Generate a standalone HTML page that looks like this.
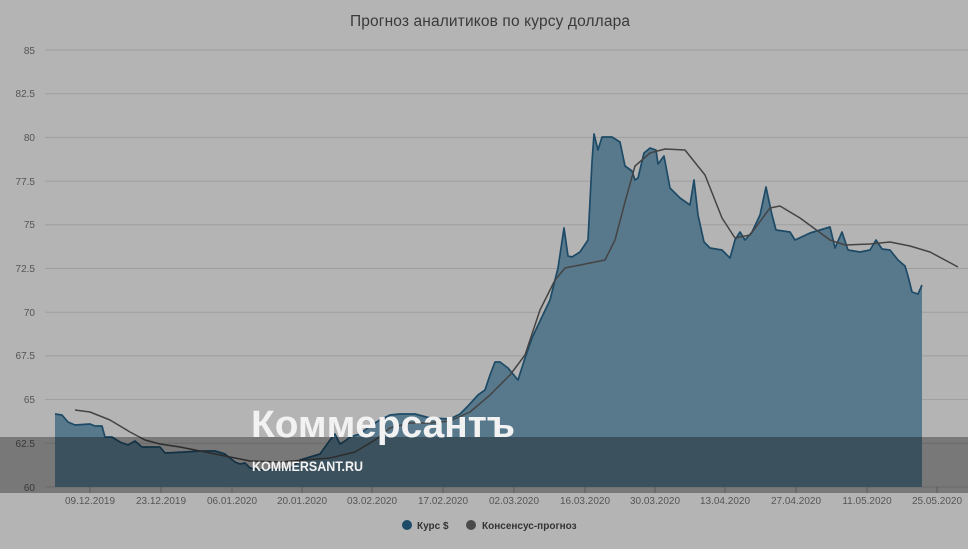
<!DOCTYPE html>
<html><head><meta charset="utf-8"><style>
body{margin:0;background:#b4b4b4;width:968px;height:544px;overflow:hidden;font-family:"Liberation Sans",sans-serif}
svg text{font-family:"Liberation Sans",sans-serif}
</style></head><body>
<svg width="968" height="544" viewBox="0 0 968 544" xmlns="http://www.w3.org/2000/svg">
<rect width="968" height="544" fill="#b4b4b4"/>
<text x="490" y="26" text-anchor="middle" font-size="15.5" fill="#3a3a3a" textLength="280">Прогноз аналитиков по курсу доллара</text>
<g stroke="#9e9e9e" stroke-width="1">
<line x1="45" x2="968" y1="50" y2="50"/><line x1="45" x2="968" y1="93.7" y2="93.7"/>
<line x1="45" x2="968" y1="137.4" y2="137.4"/><line x1="45" x2="968" y1="181.1" y2="181.1"/>
<line x1="45" x2="968" y1="224.8" y2="224.8"/><line x1="45" x2="968" y1="268.5" y2="268.5"/>
<line x1="45" x2="968" y1="312.2" y2="312.2"/><line x1="45" x2="968" y1="355.9" y2="355.9"/>
<line x1="45" x2="968" y1="399.6" y2="399.6"/><line x1="45" x2="968" y1="443.3" y2="443.3"/>
<line x1="45" x2="968" y1="487" y2="487"/>
</g>
<g font-size="10" fill="#555" text-anchor="end">
<text x="35" y="54">85</text><text x="35" y="97">82.5</text><text x="35" y="141">80</text>
<text x="35" y="185">77.5</text><text x="35" y="228">75</text><text x="35" y="272">72.5</text>
<text x="35" y="316">70</text><text x="35" y="359">67.5</text><text x="35" y="403">65</text>
<text x="35" y="447">62.5</text><text x="35" y="491">60</text>
</g>
<path d="M55,487 L55,414 62,415 68,422 75,425 90,424 95,426 102,426 105,437 112,437 120,442 128,445 135,441 142,447 160,447 165,453 185,452 200,451 215,451 225,454 235,462 240,464 245,463 250,468 260,470 290,469 300,460 310,457 320,454 330,440 335,434 340,444 345,441 350,437 360,434 370,426 380,420 390,415 400,414 415,414 430,418 450,419 460,414 468,406 478,395 485,390 490,375 495,362 500,362 508,368 518,380 525,358 532,338 540,321 550,300 558,268 564,228 568,256 572,257 580,252 588,240 592,162 594,134 598,150 602,137 612,137 620,142 625,166 632,171 635,180 638,178 644,153 650,148 656,150 658,164 664,156 670,188 680,198 690,205 694,180 698,215 704,242 710,248 722,250 730,258 735,240 740,232 745,240 752,232 760,215 766,187 772,215 776,230 790,232 795,240 810,233 830,227 835,248 842,232 848,250 860,252 870,250 876,240 882,249 890,250 898,260 905,266 908,276 912,292 918,294 922,285 L922,487 Z" fill="#58798c" stroke="none"/>
<polyline points="55,414 62,415 68,422 75,425 90,424 95,426 102,426 105,437 112,437 120,442 128,445 135,441 142,447 160,447 165,453 185,452 200,451 215,451 225,454 235,462 240,464 245,463 250,468 260,470 290,469 300,460 310,457 320,454 330,440 335,434 340,444 345,441 350,437 360,434 370,426 380,420 390,415 400,414 415,414 430,418 450,419 460,414 468,406 478,395 485,390 490,375 495,362 500,362 508,368 518,380 525,358 532,338 540,321 550,300 558,268 564,228 568,256 572,257 580,252 588,240 592,162 594,134 598,150 602,137 612,137 620,142 625,166 632,171 635,180 638,178 644,153 650,148 656,150 658,164 664,156 670,188 680,198 690,205 694,180 698,215 704,242 710,248 722,250 730,258 735,240 740,232 745,240 752,232 760,215 766,187 772,215 776,230 790,232 795,240 810,233 830,227 835,248 842,232 848,250 860,252 870,250 876,240 882,249 890,250 898,260 905,266 908,276 912,292 918,294 922,285" fill="none" stroke="#1d4a66" stroke-width="1.7" stroke-linejoin="round"/>
<polyline points="75,410 90,412 110,420 130,432 145,440 160,444 180,447 205,452 230,457 250,461 280,462 330,458 355,452 375,440 390,428 410,423 430,423 450,421 470,412 490,395 510,375 525,355 540,310 555,280 565,268 585,264 605,260 615,240 625,202 635,166 650,153 665,149 685,150 705,175 722,218 735,238 750,235 770,208 780,206 800,218 830,240 845,245 870,244 890,242 910,246 930,252 958,267" fill="none" stroke="#444" stroke-width="1.5" stroke-linejoin="round"/>
<g stroke="#8a8a8a" stroke-width="1">
<line x1="90" x2="90" y1="487" y2="493"/><line x1="161" x2="161" y1="487" y2="493"/><line x1="232" x2="232" y1="487" y2="493"/>
<line x1="302" x2="302" y1="487" y2="493"/><line x1="372" x2="372" y1="487" y2="493"/><line x1="443" x2="443" y1="487" y2="493"/>
<line x1="514" x2="514" y1="487" y2="493"/><line x1="585" x2="585" y1="487" y2="493"/><line x1="655" x2="655" y1="487" y2="493"/>
<line x1="725" x2="725" y1="487" y2="493"/><line x1="796" x2="796" y1="487" y2="493"/><line x1="867" x2="867" y1="487" y2="493"/>
<line x1="937" x2="937" y1="487" y2="493"/>
</g>
<rect x="0" y="437" width="968" height="56" fill="#000" opacity="0.33"/>
<text x="251" y="437" font-size="38" font-weight="bold" fill="#f2f2f2" textLength="264" lengthAdjust="spacingAndGlyphs">Коммерсантъ</text>
<text x="252" y="471" font-size="14" font-weight="bold" fill="#f2f2f2" textLength="111" lengthAdjust="spacingAndGlyphs">KOMMERSANT.RU</text>
<g font-size="10" fill="#555" text-anchor="middle">
<text x="90" y="504">09.12.2019</text><text x="161" y="504">23.12.2019</text><text x="232" y="504">06.01.2020</text>
<text x="302" y="504">20.01.2020</text><text x="372" y="504">03.02.2020</text><text x="443" y="504">17.02.2020</text>
<text x="514" y="504">02.03.2020</text><text x="585" y="504">16.03.2020</text><text x="655" y="504">30.03.2020</text>
<text x="725" y="504">13.04.2020</text><text x="796" y="504">27.04.2020</text><text x="867" y="504">11.05.2020</text>
<text x="937" y="504">25.05.2020</text>
</g>
<circle cx="407" cy="525" r="5" fill="#1d4a66"/>
<text x="417" y="529" font-size="10" font-weight="bold" fill="#333">Курс $</text>
<circle cx="471" cy="525" r="5" fill="#4a4a4a"/>
<text x="482" y="529" font-size="10" font-weight="bold" fill="#333">Консенсус-прогноз</text>
</svg>
</body></html>
